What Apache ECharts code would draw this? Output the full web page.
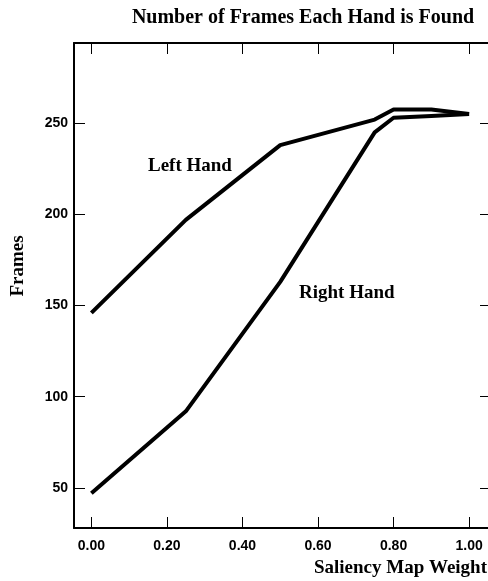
<!DOCTYPE html>
<html>
<head>
<meta charset="utf-8">
<script src="https://cdn.jsdelivr.net/npm/echarts@6/dist/echarts.min.js"></script>
<style>html,body{margin:0;padding:0;background:#fff}#c{width:488px;height:581px}</style>
</head>
<body>
<div id="c"></div>
<script>
var chartTitle = 'Number of Frames Each Hand is Found';
var xName = 'Saliency Map Weight';
var yName = 'Frames';
var xTicks = [0, 0.2, 0.4, 0.6, 0.8, 1.0];
var yTicks = [50, 100, 150, 200, 250];
var leftX = [0, 0.25, 0.5, 0.75, 0.8, 0.9, 1.0];
var leftY = [146, 197, 238, 252, 257.5, 257.5, 255];
var rightX = [0, 0.25, 0.5, 0.75, 0.8, 0.9, 1.0];
var rightY = [47, 92, 163, 245, 253, 254, 255];
var seriesNames = ['Left Hand', 'Right Hand'];

function pairs(xs, ys) { return xs.map(function (x, i) { return [x, ys[i]]; }); }

var chart = echarts.init(document.getElementById('c'), null, {renderer: 'canvas'});
var serif = '"Liberation Serif", "Times New Roman", serif';
var sans = '"Liberation Sans", Arial, sans-serif';
var axisLine = {show: true, onZero: false, lineStyle: {color: '#000', width: 2}};
var tickStyle = {color: '#000', width: 1};

chart.setOption({
  animation: false,
  backgroundColor: '#fff',
  title: {
    text: chartTitle, left: 298, top: 3, textAlign: 'center',
    textStyle: {fontFamily: serif, fontWeight: 'bold', fontSize: 20, color: '#000'}
  },
  grid: {left: 74, top: 43, right: -4, bottom: 53, containLabel: false},
  xAxis: [{
    type: 'value', min: -0.046, max: 1.05, position: 'bottom',
    axisLine: axisLine,
    axisTick: {show: true, inside: true, length: 11, customValues: xTicks, lineStyle: tickStyle},
    axisLabel: {show: true, customValues: xTicks, margin: 11, formatter: function (v) { return v.toFixed(2); },
      fontFamily: sans, fontWeight: 'bold', fontSize: 14, color: '#000'},
    splitLine: {show: false}
  }, {
    type: 'value', min: -0.046, max: 1.05, position: 'top',
    axisLine: axisLine,
    axisTick: {show: true, inside: true, length: 11, customValues: xTicks, lineStyle: tickStyle},
    axisLabel: {show: false}, splitLine: {show: false}
  }],
  yAxis: [{
    type: 'value', min: 28, max: 294, position: 'left',
    axisLine: axisLine,
    axisTick: {show: true, inside: true, length: 11, customValues: yTicks, lineStyle: tickStyle},
    axisLabel: {show: true, customValues: yTicks, margin: 6,
      fontFamily: sans, fontWeight: 'bold', fontSize: 14, color: '#000'},
    splitLine: {show: false}
  }, {
    type: 'value', min: 28, max: 294, position: 'right',
    axisLine: {show: false, onZero: false},
    axisTick: {show: true, inside: true, length: 8, customValues: yTicks, lineStyle: tickStyle},
    axisLabel: {show: false}, splitLine: {show: false}
  }],
  series: [{
    name: seriesNames[0], type: 'line', data: pairs(leftX, leftY),
    symbol: 'none', lineStyle: {color: '#000', width: 4}, xAxisIndex: 0, yAxisIndex: 0
  }, {
    name: seriesNames[1], type: 'line', data: pairs(rightX, rightY),
    symbol: 'none', lineStyle: {color: '#000', width: 4}, xAxisIndex: 0, yAxisIndex: 0
  }],
  graphic: [{
    type: 'text', left: 148, top: 157,
    style: {text: seriesNames[0], fontFamily: serif, fontWeight: 'bold', fontSize: 19, fill: '#000'}
  }, {
    type: 'text', left: 299, top: 284,
    style: {text: seriesNames[1], fontFamily: serif, fontWeight: 'bold', fontSize: 19, fill: '#000'}
  }, {
    type: 'text', x: 18, y: 266, rotation: Math.PI / 2,
    style: {text: yName, fontFamily: serif, fontWeight: 'bold', fontSize: 19, fill: '#000',
      align: 'center', verticalAlign: 'middle'}
  }, {
    type: 'text', right: 1, top: 559,
    style: {text: xName, fontFamily: serif, fontWeight: 'bold', fontSize: 19, fill: '#000'}
  }]
});
</script>
</body>
</html>
